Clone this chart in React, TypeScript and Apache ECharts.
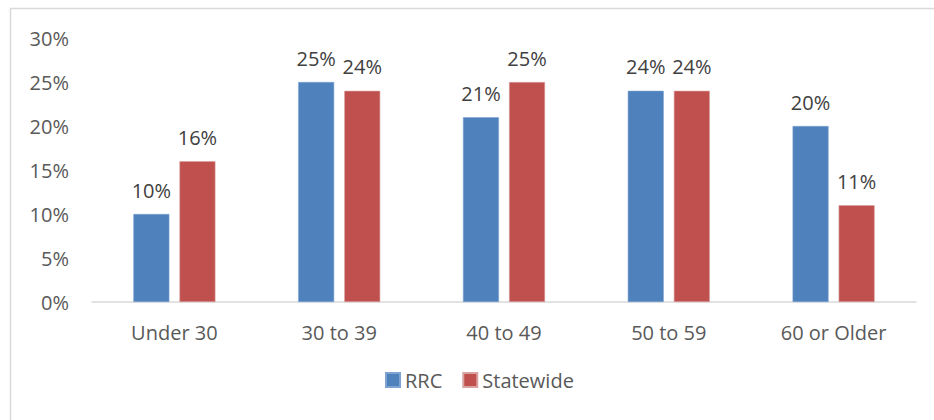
import React, { useEffect, useRef } from "react";
import * as echarts from "echarts";

const categories = ["Under 30", "30 to 39", "40 to 49", "50 to 59", "60 or Older"];
const rrcValues = [10, 25, 21, 24, 20];
const statewideValues = [16, 24, 25, 24, 11];
const yTicks = [0, 5, 10, 15, 20, 25, 30];

const FONT = "'Open Sans', 'Noto Sans', sans-serif";

export default function App() {
  const ref = useRef<HTMLDivElement>(null);
  useEffect(() => {
    document.body.style.margin = "0";
    const chart = echarts.init(ref.current!, null, { renderer: "svg" });
    const labelCommon = {
      show: true,
      position: "top" as const,
      distance: 14,
      formatter: (p: any) => `${p.value}%`,
      color: "#404040",
      fontSize: 20,
      fontFamily: FONT,
    };
    chart.setOption({
      animation: false,
      backgroundColor: "#ffffff",
      textStyle: { fontFamily: FONT },
      graphic: [
        {
          type: "rect",
          shape: { x: 10.5, y: 8.5, width: 960, height: 460 },
          style: { fill: "none", stroke: "#D9D9D9", lineWidth: 1.5 },
          silent: true,
          z: -10,
        },
      ],
      grid: { left: 92, right: 18, top: 38, bottom: 118, containLabel: false },
      legend: {
        data: ["RRC", "Statewide"],
        bottom: 25,
        left: 380,
        icon: "rect",
        itemWidth: 14,
        itemHeight: 14,
        itemGap: 20,
        textStyle: { color: "#595959", fontSize: 20, fontFamily: FONT },
      },
      xAxis: {
        type: "category",
        data: categories,
        axisLine: { lineStyle: { color: "#D9D9D9", width: 1.5 } },
        axisTick: { show: false },
        axisLabel: { color: "#595959", fontSize: 20, margin: 20, fontFamily: FONT },
      },
      yAxis: {
        type: "value",
        min: yTicks[0],
        max: yTicks[yTicks.length - 1],
        interval: 5,
        splitLine: { show: false },
        axisLine: { show: false },
        axisTick: { show: false },
        axisLabel: {
          color: "#595959",
          fontSize: 20,
          margin: 23,
          fontFamily: FONT,
          formatter: (v: number) => `${v}%`,
        },
      },
      series: [
        {
          name: "RRC",
          type: "bar",
          data: rrcValues,
          barWidth: 36,
          barGap: "28%",
          itemStyle: { color: "#4F81BD", borderColor: "#7FA3D1", borderWidth: 0.6 },
          label: labelCommon,
        },
        {
          name: "Statewide",
          type: "bar",
          data: statewideValues,
          barWidth: 36,
          itemStyle: { color: "#C0504D", borderColor: "#D8A3A1", borderWidth: 0.6 },
          label: labelCommon,
        },
      ],
    });
    return () => chart.dispose();
  }, []);
  return <div ref={ref} style={{ width: 934, height: 420 }} />;
}
